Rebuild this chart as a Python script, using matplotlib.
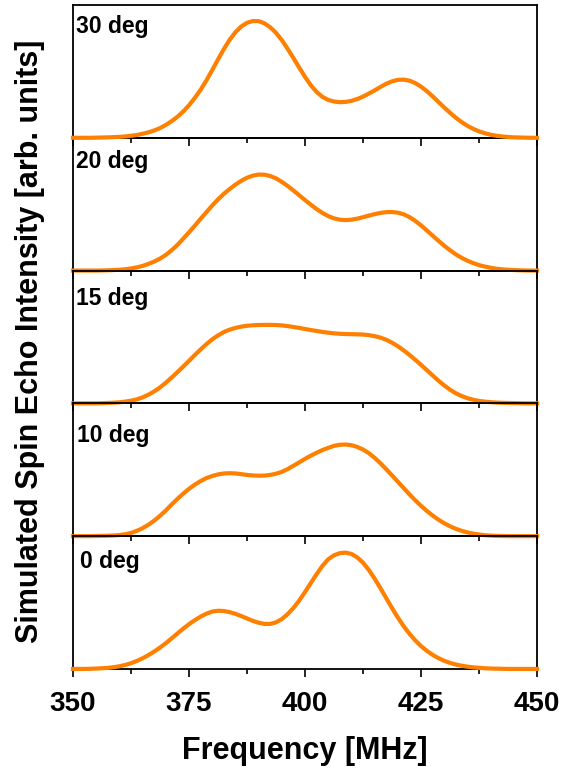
import matplotlib
matplotlib.use("Agg")
import matplotlib.pyplot as plt
from matplotlib.ticker import MultipleLocator, FixedLocator

plt.rcParams["font.family"] = ["Liberation Sans", "DejaVu Sans"]
plt.rcParams["font.weight"] = "bold"

# frequency grid, MHz
freq = [350, 351.25, 352.5, 353.75, 355, 356.25, 357.5, 358.75,
        360, 361.25, 362.5, 363.75, 365, 366.25, 367.5, 368.75,
        370, 371.25, 372.5, 373.75, 375, 376.25, 377.5, 378.75,
        380, 381.25, 382.5, 383.75, 385, 386.25, 387.5, 388.75,
        390, 391.25, 392.5, 393.75, 395, 396.25, 397.5, 398.75,
        400, 401.25, 402.5, 403.75, 405, 406.25, 407.5, 408.75,
        410, 411.25, 412.5, 413.75, 415, 416.25, 417.5, 418.75,
        420, 421.25, 422.5, 423.75, 425, 426.25, 427.5, 428.75,
        430, 431.25, 432.5, 433.75, 435, 436.25, 437.5, 438.75,
        440, 441.25, 442.5, 443.75, 445, 446.25, 447.5, 448.75,
        450]

# intensity, as fraction of each panel's height
deg30 = [0, 0, 0, 0, 0.001, 0.002, 0.003, 0.005,
         0.007, 0.01, 0.015, 0.021, 0.03, 0.041, 0.055, 0.073,
         0.097, 0.125, 0.158, 0.198, 0.245, 0.3, 0.362, 0.432,
         0.51, 0.59, 0.668, 0.738, 0.795, 0.838, 0.866, 0.879,
         0.878, 0.862, 0.832, 0.79, 0.735, 0.67, 0.6, 0.528,
         0.458, 0.395, 0.345, 0.308, 0.285, 0.273, 0.268, 0.27,
         0.278, 0.292, 0.31, 0.333, 0.357, 0.383, 0.407, 0.425,
         0.436, 0.438, 0.43, 0.412, 0.385, 0.351, 0.312, 0.27,
         0.228, 0.188, 0.151, 0.118, 0.09, 0.067, 0.048, 0.034,
         0.023, 0.015, 0.01, 0.006, 0.003, 0.002, 0.001, 0,
         0]
deg20 = [0, 0, 0, 0, 0, 0.001, 0.002, 0.004,
         0.006, 0.01, 0.016, 0.024, 0.035, 0.05, 0.068, 0.09,
         0.118, 0.153, 0.193, 0.24, 0.288, 0.338, 0.39, 0.44,
         0.49, 0.536, 0.578, 0.614, 0.647, 0.676, 0.699, 0.715,
         0.723, 0.722, 0.712, 0.694, 0.668, 0.637, 0.603, 0.567,
         0.531, 0.496, 0.463, 0.434, 0.41, 0.393, 0.383, 0.38,
         0.383, 0.391, 0.402, 0.414, 0.425, 0.434, 0.44, 0.441,
         0.436, 0.424, 0.403, 0.374, 0.34, 0.302, 0.263, 0.224,
         0.187, 0.153, 0.122, 0.096, 0.074, 0.056, 0.041, 0.03,
         0.021, 0.014, 0.009, 0.006, 0.004, 0.002, 0.001, 0,
         0]
deg15 = [0, 0, 0, 0, 0, 0.001, 0.003, 0.005,
         0.008, 0.013, 0.02, 0.03, 0.045, 0.065, 0.09, 0.12,
         0.155, 0.194, 0.235, 0.277, 0.32, 0.364, 0.406, 0.446,
         0.482, 0.512, 0.537, 0.555, 0.568, 0.578, 0.584, 0.588,
         0.59, 0.591, 0.591, 0.59, 0.587, 0.582, 0.575, 0.568,
         0.56, 0.552, 0.545, 0.538, 0.532, 0.527, 0.524, 0.522,
         0.521, 0.52, 0.518, 0.514, 0.506, 0.495, 0.479, 0.457,
         0.43, 0.399, 0.365, 0.328, 0.29, 0.25, 0.21, 0.171,
         0.135, 0.103, 0.076, 0.055, 0.039, 0.027, 0.018, 0.013,
         0.009, 0.006, 0.004, 0.003, 0.002, 0.001, 0, 0,
         0]
deg10 = [0, 0, 0, 0, 0.001, 0.002, 0.003, 0.005,
         0.008, 0.014, 0.024, 0.04, 0.06, 0.086, 0.117, 0.153,
         0.193, 0.238, 0.28, 0.32, 0.356, 0.388, 0.415, 0.437,
         0.453, 0.465, 0.472, 0.474, 0.472, 0.467, 0.461, 0.457,
         0.455, 0.456, 0.461, 0.47, 0.484, 0.505, 0.53, 0.556,
         0.582, 0.606, 0.628, 0.648, 0.665, 0.68, 0.688, 0.69,
         0.685, 0.672, 0.652, 0.625, 0.59, 0.549, 0.504, 0.457,
         0.41, 0.362, 0.315, 0.27, 0.228, 0.19, 0.155, 0.124,
         0.097, 0.074, 0.055, 0.04, 0.028, 0.019, 0.012, 0.007,
         0.004, 0.002, 0.001, 0, 0, 0, 0, 0,
         0]
deg0 = [0, 0, 0, 0.001, 0.003, 0.005, 0.008, 0.013,
        0.02, 0.03, 0.043, 0.06, 0.08, 0.104, 0.131, 0.161,
        0.194, 0.23, 0.267, 0.303, 0.337, 0.367, 0.394, 0.416,
        0.432, 0.438, 0.436, 0.428, 0.415, 0.398, 0.38, 0.362,
        0.348, 0.339, 0.339, 0.351, 0.375, 0.413, 0.459, 0.515,
        0.579, 0.647, 0.714, 0.776, 0.826, 0.856, 0.872, 0.876,
        0.866, 0.84, 0.8, 0.745, 0.68, 0.608, 0.533, 0.458,
        0.387, 0.322, 0.265, 0.215, 0.172, 0.136, 0.106, 0.081,
        0.061, 0.045, 0.033, 0.024, 0.017, 0.012, 0.008, 0.005,
        0.003, 0.002, 0.001, 0, 0, 0, 0, 0,
        0]

series = [deg30, deg20, deg15, deg10, deg0]
labels = ["30 deg", "20 deg", "15 deg", "10 deg", "0 deg"]
label_offsets = [(3, 10), (3, 12), (3, 16), (4, 21), (7, 14)]

fig, axes = plt.subplots(5, 1, figsize=(5.75, 7.68), dpi=100, sharex=True,
                         gridspec_kw={"hspace": 0})
fig.subplots_adjust(left=0.127, right=0.934, top=0.9935, bottom=0.129)

for i, ax in enumerate(axes):
    ax.patch.set_facecolor("none")
    ax.plot(freq, series[i], color="#FF7F00", lw=3, zorder=3, clip_on=False,
            solid_joinstyle="round")
    ax.set_xlim(350, 450)
    ax.set_ylim(0, 1)
    ax.set_yticks([])
    for s in ax.spines.values():
        s.set_linewidth(1.3)
    ax.tick_params(axis="x", which="major", direction="out", length=6,
                   width=1.2, labelsize=20, pad=10)
    ax.tick_params(axis="x", which="minor", direction="out", length=3.5,
                   width=1.2)
    if i == 0:
        ax.xaxis.set_major_locator(FixedLocator([360, 380, 400, 420, 440]))
        ax.xaxis.set_minor_locator(FixedLocator([350, 370, 390, 410, 430, 450]))
    else:
        ax.xaxis.set_major_locator(MultipleLocator(25))
        ax.xaxis.set_minor_locator(MultipleLocator(12.5))
    if i < 4:
        ax.tick_params(axis="x", labelbottom=False)
    ax.annotate(labels[i], xy=(0, 1), xycoords="axes fraction",
                xytext=(label_offsets[i][0], -label_offsets[i][1]),
                textcoords="offset pixels", ha="left", va="top",
                fontsize=16.5, fontweight="bold")

# the first panel's ticks must stay visible over the second one
axes[0].set_zorder(2)

fig.text(305 / 575, 1 - 759 / 768, "Frequency [MHz]", ha="center",
         va="baseline", fontsize=22, fontweight="bold")
fig.text(30 / 575, 1 - 341 / 768, "Simulated Spin Echo Intensity [arb. units]",
         rotation=90, ha="center", va="center", fontsize=22, fontweight="bold")

fig.savefig("out.png", dpi=100, facecolor="white")
